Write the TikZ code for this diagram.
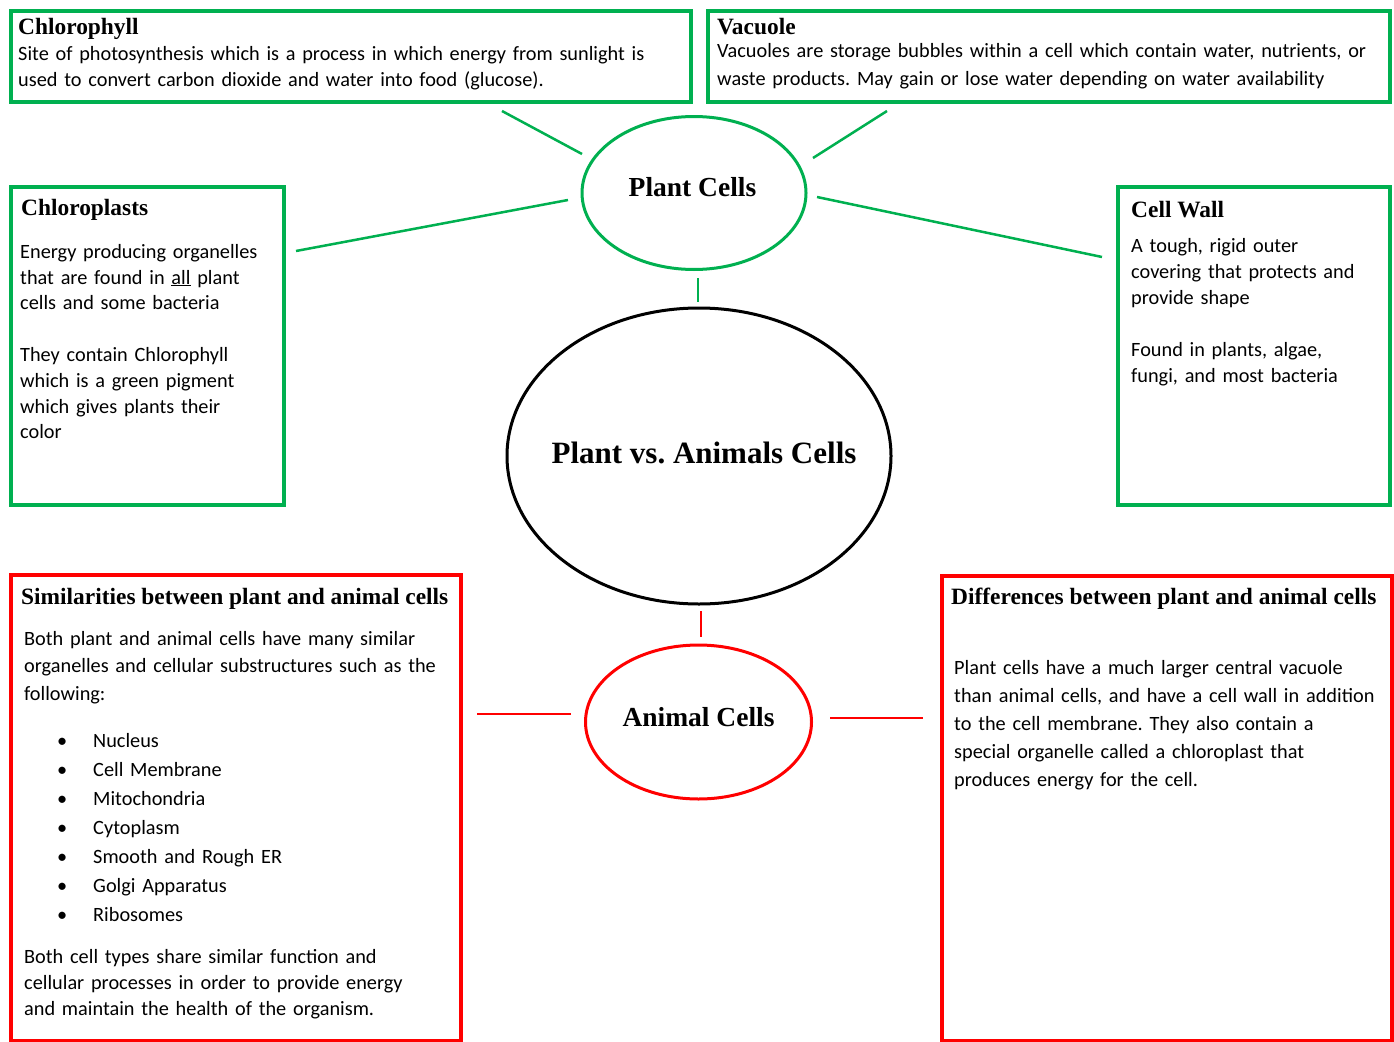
\documentclass[tikz,border=0pt]{standalone}
\usepackage{fontspec}
\setmainfont{Carlito}
\newfontfamily\serifhead{Liberation Serif}
\usetikzlibrary{shapes.geometric}
\definecolor{cgreen}{RGB}{0,176,80}
\definecolor{cred}{RGB}{255,0,0}
\frenchspacing
\tikzset{
 gbox/.style={draw=cgreen,line width=4pt,rectangle,inner sep=0pt,anchor=north west},
 rbox/.style={draw=cred,line width=4pt,rectangle,inner sep=0pt,anchor=north west},
 head/.style={inner sep=0pt,anchor=base west,font=\fontsize{23.4}{28}\selectfont\serifhead\bfseries},
 bodytxt/.style={inner sep=0pt,anchor=north west,align=left,text width=900pt},
 oval/.style={ellipse,line width=3pt,inner sep=0pt},
 ovaltxt/.style={inner sep=0pt,anchor=base,font=\fontsize{27.5}{32}\selectfont\serifhead\bfseries},
 glink/.style={draw=cgreen,line width=2.5pt},
 rlink/.style={draw=cred,line width=2.5pt},
}
\begin{document}
\begin{tikzpicture}[x=1pt,y=-1pt]
\useasboundingbox (0,0) rectangle (1394,1041);
\fill[white] (0,0) rectangle (1394,1041);

% boxes
\node[gbox,minimum width=680pt,minimum height=91pt] (chl) at (9,9) {};
\node[gbox,minimum width=682pt,minimum height=91pt] (vac) at (706,9) {};
\node[gbox,minimum width=273pt,minimum height=318pt] (clp) at (9,185) {};
\node[gbox,minimum width=272pt,minimum height=318pt] (cw) at (1116,185) {};
\node[rbox,minimum width=450pt,minimum height=466pt] (sim) at (9,573) {};
\node[rbox,minimum width=450pt,minimum height=465pt] (dif) at (940,574) {};

% ellipses
\node[oval,draw=cgreen,minimum width=224pt,minimum height=153pt] (plant) at (694,193) {};
\node[oval,draw=black,minimum width=384pt,minimum height=296pt] (main) at (699,456) {};
\node[oval,draw=cred,minimum width=226pt,minimum height=154pt] (animal) at (698.5,722) {};

\node[ovaltxt] (plantT) at (692.5,196) {Plant Cells};
\node[ovaltxt,font=\fontsize{31}{36}\selectfont\serifhead\bfseries] (mainT) at (704,463) {Plant vs. Animals Cells};
\node[ovaltxt] (animalT) at (698.5,726) {Animal Cells};

% connector end points
\coordinate (a1) at (502,111); \coordinate (b1) at (582,154);
\coordinate (a2) at (887,111); \coordinate (b2) at (813,158);
\coordinate (a3) at (296,251); \coordinate (b3) at (568,200);
\coordinate (a4) at (817,197); \coordinate (b4) at (1102,257);
\coordinate (a5) at (698,278); \coordinate (b5) at (698,302);
\coordinate (a6) at (701,611); \coordinate (b6) at (701,637);
\coordinate (a7) at (477,714); \coordinate (b7) at (571,714);
\coordinate (a8) at (830,718); \coordinate (b8) at (923,718);
\draw[glink] (a1) -- (b1);
\draw[glink] (a2) -- (b2);
\draw[glink] (a3) -- (b3);
\draw[glink] (a4) -- (b4);
\draw[glink] (a5) -- (b5);
\draw[rlink] (a6) -- (b6);
\draw[rlink] (a7) -- (b7);
\draw[rlink] (a8) -- (b8);

% headings
\node[head] (chlH) at (18,35) {Chlorophyll};
\node[head] (vacH) at (717,35) {Vacuole};
\node[head] (clpH) at (21,215) {Chloroplasts};
\node[head] (cwH) at (1131,217) {Cell Wall};
\node[head] (simH) at (21,604) {Similarities between plant and animal cells};
\node[head] (difH) at (951,604) {Differences between plant and animal cells};

% body texts
\node[bodytxt,font=\fontsize{20.3}{26}\selectfont] (chlT) at (18,41.8)
 {\strut Site of photosynthesis which is a process in which energy from sunlight is\\
  used to convert carbon dioxide and water into food (glucose).};
\node[bodytxt,font=\fontsize{20.3}{28}\selectfont] (vacT) at (717,37.4)
 {\strut Vacuoles are storage bubbles within a cell which contain water, nutrients, or\\
  waste products. May gain or lose water depending on water availability};
\node[bodytxt,font=\fontsize{20.3}{25.8}\selectfont] (clpT) at (20,240)
 {\strut Energy producing organelles\\
  that are found in \underline{all} plant\\
  cells and some bacteria\\[25.8pt]
  They contain Chlorophyll\\
  which is a green pigment\\
  which gives plants their\\
  color};
\node[bodytxt,font=\fontsize{20.3}{26}\selectfont] (cwT) at (1131,233.8)
 {\strut A tough, rigid outer\\
  covering that protects and\\
  provide shape\\[26pt]
  Found in plants, algae,\\
  fungi, and most bacteria};
\node[bodytxt,font=\fontsize{20.3}{27.5}\selectfont] (simT1) at (24,625.75)
 {\strut Both plant and animal cells have many similar\\
  organelles and cellular substructures such as the\\
  following:};
\node[bodytxt,font=\fontsize{20.3}{29}\selectfont] (simB) at (24,726.7)
 {\strut\hspace*{33pt}\makebox[36pt][l]{\textbullet}Nucleus\\
  \hspace*{33pt}\makebox[36pt][l]{\textbullet}Cell Membrane\\
  \hspace*{33pt}\makebox[36pt][l]{\textbullet}Mitochondria\\
  \hspace*{33pt}\makebox[36pt][l]{\textbullet}Cytoplasm\\
  \hspace*{33pt}\makebox[36pt][l]{\textbullet}Smooth and Rough ER\\
  \hspace*{33pt}\makebox[36pt][l]{\textbullet}Golgi Apparatus\\
  \hspace*{33pt}\makebox[36pt][l]{\textbullet}Ribosomes};
\node[bodytxt,font=\fontsize{20.3}{26}\selectfont] (simT2) at (24,944.8)
 {\strut Both cell types share similar function and\\
  cellular processes in order to provide energy\\
  and maintain the health of the organism.};
\node[bodytxt,font=\fontsize{20.3}{28}\selectfont] (difT) at (954,654.4)
 {\strut Plant cells have a much larger central vacuole\\
  than animal cells, and have a cell wall in addition\\
  to the cell membrane. They also contain a\\
  special organelle called a chloroplast that\\
  produces energy for the cell.};
\end{tikzpicture}
\end{document}
